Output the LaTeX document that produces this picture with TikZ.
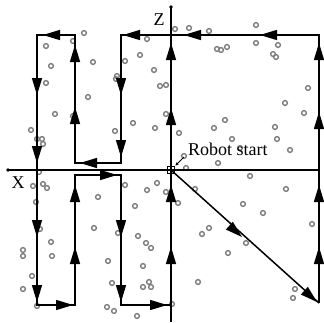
\documentclass[tikz,border=0pt]{standalone}
\usepackage{fontspec}
\setmainfont{Liberation Serif}
\usetikzlibrary{arrows.meta}
\definecolor{obsgray}{RGB}{125,125,125}
\tikzset{
  ahead/.pic={\fill[black] (0,0) -- (-17,-5.2) -- (-17,5.2) -- cycle;},
  route/.style={line width=2pt,line join=miter},
  axisline/.style={line width=2pt},
  diagline/.style={line width=1.5pt},
  obst/.style={draw=obsgray,line width=1.4pt},
  lbl/.style={inner sep=0pt,font=\fontsize{18pt}{21pt}\selectfont},
}
\begin{document}
\begin{tikzpicture}[x=1pt,y=-1pt]
\useasboundingbox (0,0) rectangle (324,322);
% obstacles
\foreach \px/\py in {84/33,73/41,46/46,93/62,51/66,46/83,88/97,55/114,73/116,31/130,37/139,42/139,43/144,
147/39,140/55,125/61,154/70,117/76,116/79,160/86,166/85,166/114,133/123,115/131,155/128,
175/29,189/28,209/31,256/25,217/49,221/50,227/47,256/43,278/45,273/54,276/57,
308/88,285/103,304/113,225/120,214/128,275/127,179/133,232/139,277/139,240/148,290/150,184/156,218/163,186/168,
250/176,195/189,286/189,166/192,178/203,243/204,263/213,312/224,209/228,202/234,246/243,228/253,198/282,295/289,293/298,172/304,
39/172,33/186,43/184,47/188,36/202,98/197,125/185,157/183,147/190,135/206,40/229,94/228,118/233,138/236,146/243,151/248,51/242,
23/250,23/256,52/256,108/261,143/266,32/276,112/283,149/282,143/287,151/287,23/289,37/306,107/307,114/311,137/316}
  \draw[obst] (\px,\py) circle[radius=2.4];
% coordinates
\coordinate (O) at (171,170);
\coordinate (Xl) at (8,170);
\coordinate (Xr) at (319,170);
\coordinate (Zt) at (171,7);
\coordinate (Zb) at (171,322);
\coordinate (R5) at (319,303);
\coordinate (T5) at (319,35);
\coordinate (T3) at (121,35);
\coordinate (C3) at (121,163);
\coordinate (C2) at (75,163);
\coordinate (T2) at (75,35);
\coordinate (T1) at (37,35);
\coordinate (B1) at (37,305);
\coordinate (B2) at (75,305);
\coordinate (M2) at (75,175);
\coordinate (M3) at (121,175);
\coordinate (B3) at (121,305);
\coordinate (Bc) at (171,305);
% axes
\draw[axisline] (Xl) -- (Xr);
\draw[axisline] (Zt) -- (Zb);
\fill (Xl) circle[radius=1.9];
\fill (Zt) circle[radius=1.9];
% route
\draw[route] (R5) -- (T5) -- (T3) -- (C3) -- (C2) -- (T2) -- (T1) -- (B1) -- (B2) -- (M2) -- (M3) -- (B3) -- (Bc);
\draw[diagline] (O) -- (R5);
% arrowheads
\foreach \ax in {260,184,123,43} \pic[rotate=180] at (\ax,35) {ahead};
\pic[rotate=180] at (80,163) {ahead};
\foreach \ay in {95,157} \pic[rotate=-90] at (121,\ay) {ahead};
\foreach \ay in {107,45} \pic[rotate=90] at (75,\ay) {ahead};
\foreach \ay in {95,163,237,302} \pic[rotate=-90] at (37,\ay) {ahead};
\pic at (73,305) {ahead};
\foreach \ay in {247,185} \pic[rotate=90] at (75,\ay) {ahead};
\pic at (117,175) {ahead};
\foreach \ay in {237,302} \pic[rotate=-90] at (121,\ay) {ahead};
\pic at (167,305) {ahead};
\foreach \ay in {247,185,108,43} \pic[rotate=90] at (171,\ay) {ahead};
\foreach \ay in {247,185,112,43} \pic[rotate=90] at (319,\ay) {ahead};
\pic[rotate=-41.9] at (242,237) {ahead};
\pic[rotate=-41.9] at (317,302) {ahead};
% robot start
\node[draw,line width=1.3pt,minimum size=7.5pt,inner sep=0pt] (robot) at (O) {};
\node[lbl,anchor=base west] (start) at (188,155) {Robot start};
\coordinate (sa) at (184,157);
\draw[line width=0.9pt,-{Stealth[length=3.5pt,width=3pt]}] (sa) -- (robot.north east);
% axis labels
\node[lbl] (zl) at (159,20) {Z};
\node[lbl] (xl) at (18,183) {X};
\end{tikzpicture}
\end{document}
